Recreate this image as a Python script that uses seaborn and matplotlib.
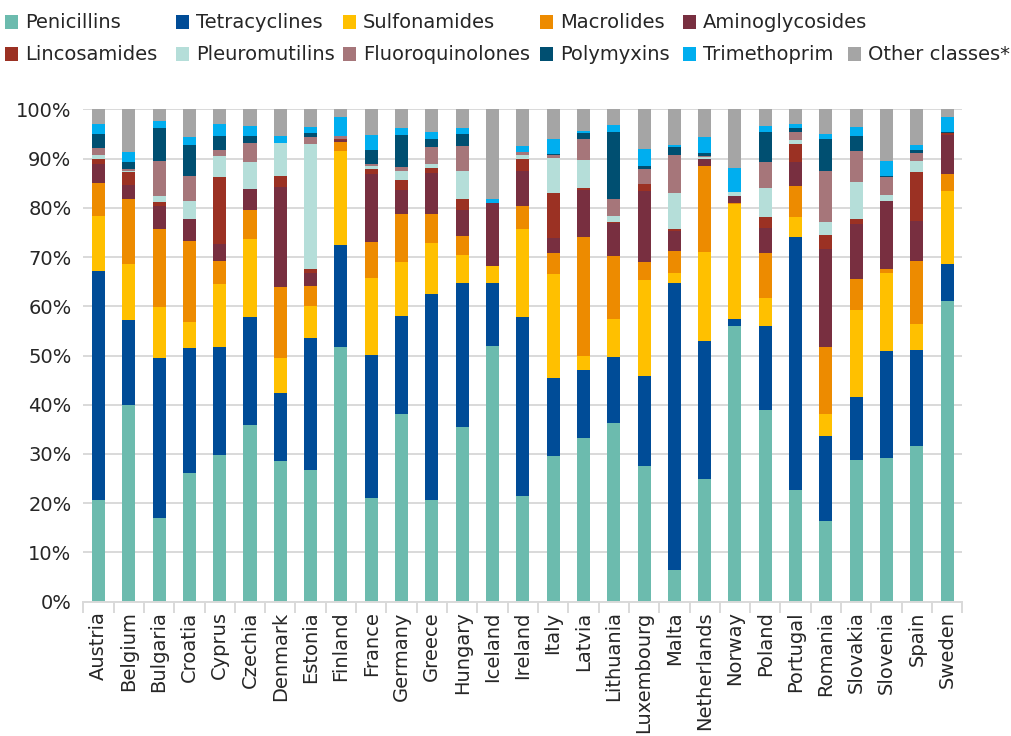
import numpy as np
import pandas as pd
import matplotlib
matplotlib.use("Agg")
import matplotlib.pyplot as plt
from matplotlib.patches import Rectangle
from matplotlib.ticker import FixedLocator, FuncFormatter
import seaborn as sns

# Share of sales by antimicrobial class (% of total), per country
countries = ["Austria", "Belgium", "Bulgaria", "Croatia", "Cyprus", "Czechia",
             "Denmark", "Estonia", "Finland", "France", "Germany", "Greece",
             "Hungary", "Iceland", "Ireland", "Italy", "Latvia", "Lithuania",
             "Luxembourg", "Malta", "Netherlands", "Norway", "Poland", "Portugal",
             "Romania", "Slovakia", "Slovenia", "Spain", "Sweden"]

penicillins = [20.7, 39.9, 17.0, 26.1, 29.8, 35.9, 28.6, 26.7, 51.7, 21.1, 38.1, 20.6,
               35.5, 51.9, 21.5, 29.6, 33.2, 36.3, 27.6, 6.4, 24.9, 56.0, 38.9, 22.7,
               16.4, 28.8, 29.2, 31.6, 61.1]
tetracyclines = [46.5, 17.3, 32.5, 25.4, 21.9, 21.9, 13.8, 26.9, 20.7, 29.0, 19.9, 41.9,
                 29.2, 12.8, 36.3, 15.8, 13.9, 13.4, 18.2, 58.3, 28.0, 1.4, 17.1, 51.4,
                 17.2, 12.8, 21.7, 19.5, 7.5]
sulfonamides = [11.1, 11.4, 10.4, 5.3, 12.8, 15.9, 7.1, 6.5, 19.1, 15.6, 11.0, 10.4,
                5.7, 3.5, 17.9, 21.2, 2.8, 7.7, 19.5, 2.1, 18.1, 23.4, 5.7, 4.0,
                4.5, 17.6, 15.9, 5.3, 14.8]
macrolides = [6.7, 13.2, 15.8, 16.5, 4.7, 5.9, 14.4, 4.0, 1.9, 7.4, 9.7, 5.8,
              3.9, 0.0, 4.7, 4.2, 24.2, 12.8, 3.7, 4.4, 17.5, 0.2, 9.1, 6.3,
              13.6, 6.3, 0.8, 12.8, 3.5]
aminoglycosides = [3.9, 2.8, 4.7, 4.4, 3.4, 4.2, 20.3, 2.7, 0.3, 13.8, 4.9, 8.4,
                   5.3, 12.8, 7.1, 3.1, 9.5, 6.7, 14.4, 4.1, 1.4, 1.4, 5.1, 4.9,
                   19.9, 11.2, 13.8, 8.1, 7.9]
lincosamides = [1.0, 2.7, 0.8, 0.0, 13.7, 0.1, 2.3, 0.8, 0.3, 1.0, 2.0, 1.0,
                2.2, 0.0, 2.4, 9.1, 0.4, 0.2, 1.4, 0.4, 0.0, 0.0, 2.2, 3.7,
                2.9, 1.0, 0.0, 10.0, 0.4]
pleuromutilins = [0.8, 0.2, 1.2, 3.7, 4.2, 5.4, 6.7, 25.4, 0.0, 0.6, 1.9, 0.8,
                  5.7, 0.0, 0.8, 7.1, 5.7, 1.2, 0.0, 7.3, 0.4, 0.8, 5.9, 0.8,
                  2.6, 7.5, 1.2, 2.2, 0.0]
fluoroquinolones = [1.4, 0.3, 7.1, 5.1, 1.2, 3.9, 0.0, 1.4, 0.6, 0.4, 0.8, 3.4,
                    5.1, 0.0, 0.6, 0.6, 4.3, 3.5, 3.1, 7.7, 0.2, 0.0, 5.3, 1.6,
                    10.4, 6.3, 3.7, 1.6, 0.0]
polymyxins = [2.9, 1.5, 6.7, 6.3, 2.9, 1.4, 0.0, 0.8, 0.0, 2.8, 6.5, 1.7,
              2.4, 0.0, 0.0, 0.2, 1.2, 13.6, 0.6, 1.6, 0.6, 0.0, 6.1, 0.8,
              6.5, 3.1, 0.2, 0.6, 0.2]
trimethoprim = [2.0, 2.0, 1.4, 1.6, 2.4, 2.0, 1.4, 1.2, 3.8, 3.1, 1.4, 1.4,
                1.2, 0.8, 1.3, 3.1, 0.4, 1.4, 3.4, 0.5, 3.3, 4.9, 1.2, 0.8,
                1.0, 1.8, 3.0, 1.1, 3.0]
other_classes = [3.0, 8.7, 2.4, 5.6, 3.0, 3.4, 5.4, 3.6, 1.6, 5.2, 3.8, 4.6,
                 3.8, 18.2, 7.4, 6.0, 4.4, 3.2, 8.1, 7.2, 5.6, 11.9, 3.4, 3.0,
                 5.0, 3.6, 10.5, 7.2, 1.6]

class_names = ["Penicillins", "Tetracyclines", "Sulfonamides", "Macrolides",
               "Aminoglycosides", "Lincosamides", "Pleuromutilins",
               "Fluoroquinolones", "Polymyxins", "Trimethoprim", "Other classes*"]
class_colors = ["#6cbbae", "#004c97", "#ffc000", "#ed8b00", "#782f40",
                "#9b3123", "#b5ded9", "#a6767a", "#004f71", "#00aeef", "#a5a5a5"]

shares = pd.DataFrame(
    dict(zip(class_names, [penicillins, tetracyclines, sulfonamides, macrolides,
                           aminoglycosides, lincosamides, pleuromutilins,
                           fluoroquinolones, polymyxins, trimethoprim,
                           other_classes])),
    index=countries,
)

sns.set_theme(style="white")
plt.rcParams["font.family"] = ["DejaVu Sans"]
text_color = "#262626"
grid_color = "#d9d9d9"

W, H = 1011, 736
fig = plt.figure(figsize=(W / 100, H / 100), dpi=100)
x0, x1, y_top, y_bot = 83.3, 962.3, 109.3, 601.7
ax = fig.add_axes([x0 / W, 1 - y_bot / H, (x1 - x0) / W, (y_bot - y_top) / H])

# Stacked bars, one class at a time
base = np.zeros(len(countries))
for name, color in zip(class_names, class_colors):
    vals = shares[name].to_numpy()
    sns.barplot(x=countries, y=vals, order=countries, color=color, saturation=1,
                width=0.43, bottom=base.copy(), errorbar=None, linewidth=0, ax=ax)
    base = base + vals

ax.set_xlim(-0.5, len(countries) - 0.5)
ax.set_ylim(0, 100)
ax.set_xlabel("")
ax.set_ylabel("")

ax.yaxis.set_major_locator(FixedLocator(np.arange(0, 101, 10)))
ax.yaxis.set_major_formatter(FuncFormatter(lambda v, p: f"{v:.0f}%"))
ax.grid(axis="y", color=grid_color, linewidth=1.4)
ax.grid(axis="x", visible=False)
ax.set_axisbelow(True)

for side in ("left", "top", "right"):
    ax.spines[side].set_visible(False)
ax.spines["bottom"].set_color(grid_color)
ax.spines["bottom"].set_linewidth(1.4)

ax.set_xticks(range(len(countries)))
ax.set_xticklabels(countries, rotation=90)
ax.xaxis.set_minor_locator(FixedLocator(np.arange(-0.5, len(countries), 1.0)))
ax.tick_params(axis="x", which="major", length=0, pad=7, labelsize=14,
               labelcolor=text_color)
ax.tick_params(axis="x", which="minor", length=8, width=1.4, color=grid_color,
               direction="out", bottom=True)
ax.tick_params(axis="y", which="major", length=0, pad=8.5, labelsize=14,
               labelcolor=text_color)

# Legend laid out in two rows across the top
rows = [
    [(5, 0), (176, 1), (343, 2), (540, 3), (683, 4)],
    [(5, 5), (176, 6), (343, 7), (540, 8), (683, 9), (848, 10)],
]
row_y = [22, 54]
sq_w, sq_h = 13, 14
for ry, row in zip(row_y, rows):
    for px, idx in row:
        fig.patches.append(Rectangle(((px) / W, 1 - (ry + sq_h / 2) / H),
                                     sq_w / W, sq_h / H, transform=fig.transFigure,
                                     facecolor=class_colors[idx], edgecolor="none"))
        fig.text((px + 20) / W, 1 - ry / H, class_names[idx], fontsize=14,
                 color=text_color, va="center", ha="left")

fig.savefig("out.png", dpi=100)
